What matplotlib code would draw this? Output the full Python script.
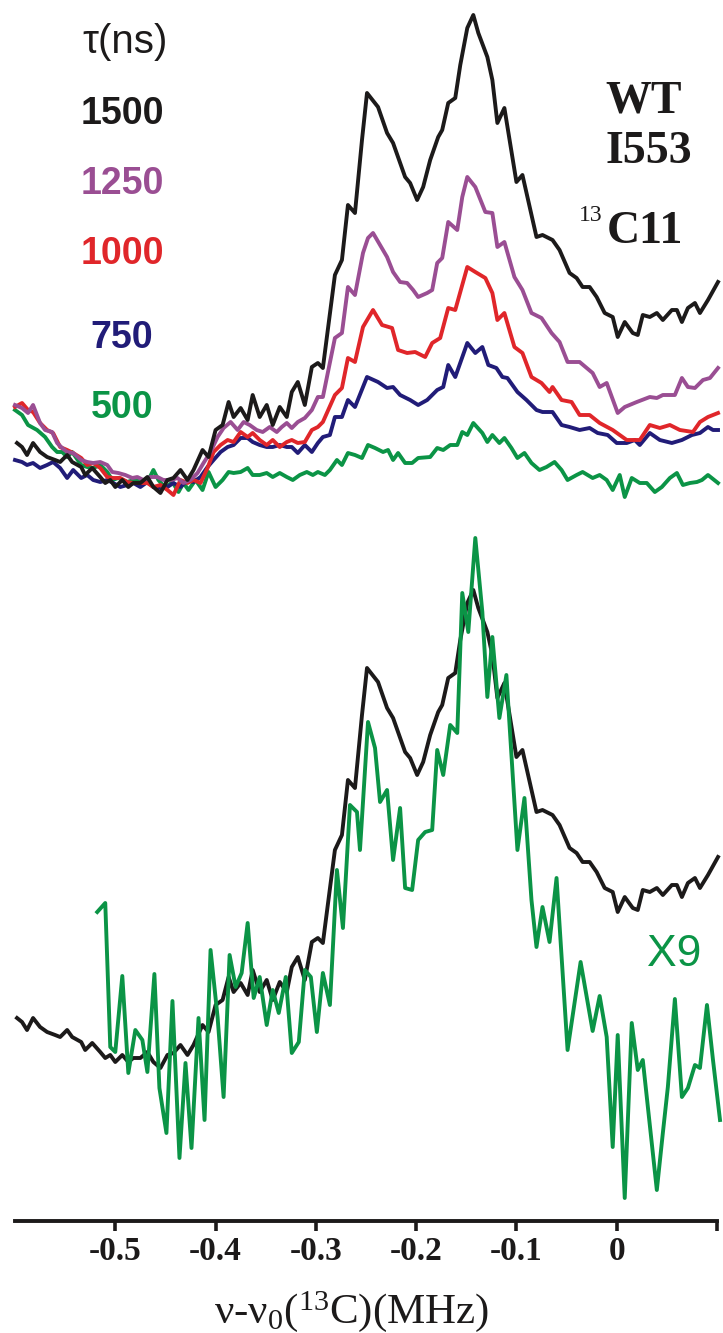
"""
Stacked ENDOR spectra for several mixing times
plus the scaled short-time trace against the long one
"""

###Third party
import matplotlib
matplotlib.use('Agg')
import matplotlib.pyplot as plt

plt.rcParams['mathtext.fontset'] = 'custom'
plt.rcParams['mathtext.rm'] = 'Liberation Serif'
plt.rcParams['mathtext.it'] = 'Liberation Serif:italic'

##spectra: frequency offset (MHz) and intensity (a.u.) for each tau
freq_1500 = [-0.598, -0.593, -0.588, -0.582, -0.575, -0.568, -0.560, -0.555, -0.548, -0.543,
             -0.534, -0.530, -0.523, -0.515, -0.510, -0.505, -0.500, -0.493, -0.487, -0.482,
             -0.475, -0.468, -0.462, -0.455, -0.448, -0.442, -0.435, -0.428, -0.422, -0.413,
             -0.407, -0.400, -0.393, -0.387, -0.382, -0.375, -0.368, -0.363, -0.356, -0.349,
             -0.343, -0.336, -0.329, -0.324, -0.318, -0.311, -0.304, -0.298, -0.293, -0.281,
             -0.274, -0.268, -0.261, -0.254, -0.249, -0.238, -0.229, -0.223, -0.211, -0.206,
             -0.199, -0.193, -0.186, -0.178, -0.174, -0.168, -0.161, -0.156, -0.149, -0.143,
             -0.138, -0.129, -0.124, -0.119, -0.112, -0.100, -0.094, -0.080, -0.074, -0.064,
             -0.057, -0.047, -0.040, -0.034, -0.027, -0.020, -0.012, -0.004, 0.001, 0.008,
             0.016, 0.021, 0.026, 0.033, 0.040, 0.046, 0.055, 0.060, 0.065, 0.071,
             0.078, 0.083, 0.091, 0.101]
int_1500 = [0.47, 0.43, 0.35, 0.47, 0.38, 0.33, 0.30, 0.28, 0.35, 0.28,
            0.23, 0.15, 0.22, 0.13, 0.07, 0.10, 0.03, 0.10, 0.03, 0.07,
            0.07, 0.13, 0.03, -0.03, 0.10, 0.12, 0.20, 0.10, 0.20, 0.40,
            0.33, 0.60, 0.65, 0.88, 0.73, 0.82, 0.70, 0.95, 0.73, 0.85,
            0.65, 0.83, 0.73, 0.98, 1.08, 0.85, 1.23, 1.27, 1.22, 2.15,
            2.30, 2.85, 2.77, 3.50, 3.97, 3.83, 3.57, 3.47, 3.13, 3.07,
            2.90, 3.03, 3.30, 3.53, 3.60, 3.87, 3.92, 4.25, 4.62, 4.75,
            4.57, 4.33, 4.10, 3.67, 3.82, 3.08, 3.15, 2.53, 2.55, 2.50,
            2.40, 2.17, 2.12, 2.03, 2.03, 1.93, 1.77, 1.73, 1.53, 1.68,
            1.57, 1.55, 1.75, 1.73, 1.77, 1.70, 1.80, 1.80, 1.68, 1.82,
            1.87, 1.77, 1.90, 2.08]

freq_1250 = [-0.600, -0.593, -0.587, -0.582, -0.575, -0.570, -0.563, -0.558, -0.553, -0.548,
             -0.542, -0.534, -0.528, -0.522, -0.515, -0.508, -0.503, -0.497, -0.490, -0.483,
             -0.478, -0.472, -0.465, -0.458, -0.452, -0.444, -0.438, -0.432, -0.425, -0.418,
             -0.412, -0.405, -0.398, -0.392, -0.385, -0.378, -0.372, -0.366, -0.359, -0.353,
             -0.346, -0.339, -0.334, -0.329, -0.324, -0.318, -0.311, -0.304, -0.298, -0.293,
             -0.281, -0.274, -0.268, -0.261, -0.253, -0.248, -0.243, -0.236, -0.229, -0.223,
             -0.216, -0.209, -0.203, -0.198, -0.189, -0.184, -0.179, -0.174, -0.168, -0.159,
             -0.154, -0.149, -0.141, -0.131, -0.124, -0.119, -0.112, -0.102, -0.094, -0.085,
             -0.075, -0.065, -0.057, -0.049, -0.037, -0.024, -0.017, -0.010, 0.001, 0.008,
             0.020, 0.033, 0.040, 0.046, 0.058, 0.065, 0.071, 0.078, 0.086, 0.093,
             0.101]
int_1250 = [0.85, 0.82, 0.77, 0.85, 0.67, 0.60, 0.58, 0.47, 0.42, 0.38,
            0.37, 0.30, 0.28, 0.27, 0.28, 0.25, 0.18, 0.17, 0.15, 0.12,
            0.13, 0.10, 0.13, 0.13, 0.10, 0.10, 0.12, 0.07, 0.10, 0.17,
            0.27, 0.38, 0.53, 0.62, 0.68, 0.60, 0.68, 0.65, 0.60, 0.58,
            0.63, 0.58, 0.63, 0.67, 0.62, 0.68, 0.72, 0.80, 0.93, 0.93,
            1.52, 1.57, 2.03, 1.95, 2.37, 2.52, 2.57, 2.45, 2.33, 2.18,
            2.08, 2.07, 2.00, 1.93, 1.97, 2.00, 2.27, 2.32, 2.68, 2.60,
            2.93, 3.13, 3.03, 2.78, 2.77, 2.43, 2.48, 2.13, 2.00, 1.77,
            1.72, 1.57, 1.48, 1.28, 1.28, 1.17, 1.03, 1.07, 0.77, 0.83,
            0.88, 0.93, 0.92, 0.95, 0.95, 1.12, 1.03, 1.02, 1.10, 1.12,
            1.22]

freq_1000 = [-0.600, -0.593, -0.587, -0.582, -0.575, -0.568, -0.562, -0.555, -0.548, -0.542,
             -0.534, -0.528, -0.522, -0.515, -0.508, -0.502, -0.495, -0.488, -0.482, -0.475,
             -0.468, -0.462, -0.455, -0.448, -0.442, -0.435, -0.428, -0.422, -0.415, -0.408,
             -0.402, -0.395, -0.388, -0.382, -0.375, -0.368, -0.363, -0.356, -0.349, -0.343,
             -0.336, -0.329, -0.324, -0.318, -0.311, -0.304, -0.298, -0.293, -0.281, -0.274,
             -0.268, -0.261, -0.253, -0.243, -0.234, -0.224, -0.218, -0.209, -0.201, -0.191,
             -0.184, -0.176, -0.168, -0.161, -0.149, -0.141, -0.131, -0.124, -0.119, -0.112,
             -0.102, -0.094, -0.085, -0.075, -0.067, -0.064, -0.055, -0.045, -0.037, -0.027,
             -0.017, -0.004, 0.010, 0.023, 0.033, 0.043, 0.053, 0.063, 0.076, 0.083,
             0.091, 0.101]
int_1000 = [0.83, 0.87, 0.80, 0.78, 0.67, 0.60, 0.57, 0.43, 0.40, 0.37,
            0.32, 0.25, 0.27, 0.22, 0.13, 0.12, 0.12, 0.08, 0.07, 0.07,
            0.07, 0.03, 0.05, 0.00, -0.05, 0.10, 0.07, 0.10, 0.07, 0.22,
            0.38, 0.45, 0.50, 0.48, 0.58, 0.53, 0.57, 0.50, 0.45, 0.50,
            0.43, 0.48, 0.50, 0.47, 0.48, 0.60, 0.63, 0.68, 0.95, 1.02,
            1.32, 1.28, 1.63, 1.80, 1.65, 1.62, 1.40, 1.37, 1.38, 1.33,
            1.47, 1.52, 1.82, 1.80, 2.23, 2.18, 2.12, 1.97, 1.70, 1.77,
            1.43, 1.37, 1.13, 1.07, 0.98, 1.03, 0.90, 0.88, 0.75, 0.75,
            0.67, 0.60, 0.50, 0.50, 0.65, 0.62, 0.65, 0.60, 0.58, 0.68,
            0.73, 0.77]

freq_750 = [-0.600, -0.593, -0.588, -0.582, -0.575, -0.568, -0.562, -0.555, -0.548, -0.542,
            -0.534, -0.528, -0.522, -0.515, -0.508, -0.502, -0.495, -0.488, -0.482, -0.475,
            -0.468, -0.462, -0.455, -0.448, -0.442, -0.435, -0.428, -0.422, -0.415, -0.408,
            -0.402, -0.395, -0.388, -0.382, -0.375, -0.368, -0.363, -0.356, -0.349, -0.343,
            -0.336, -0.329, -0.324, -0.318, -0.311, -0.304, -0.298, -0.293, -0.286, -0.281,
            -0.274, -0.268, -0.261, -0.249, -0.238, -0.229, -0.223, -0.216, -0.206, -0.198,
            -0.189, -0.179, -0.173, -0.168, -0.161, -0.149, -0.141, -0.134, -0.128, -0.120,
            -0.114, -0.109, -0.099, -0.090, -0.080, -0.074, -0.064, -0.055, -0.047, -0.037,
            -0.027, -0.019, -0.009, 0.000, 0.010, 0.018, 0.023, 0.033, 0.043, 0.055,
            0.065, 0.075, 0.083, 0.091, 0.096, 0.101]
int_750 = [0.30, 0.28, 0.25, 0.27, 0.22, 0.25, 0.28, 0.22, 0.12, 0.20,
           0.12, 0.15, 0.10, 0.08, 0.10, 0.07, 0.03, 0.05, 0.07, 0.03,
           0.08, 0.03, 0.02, 0.03, 0.07, 0.03, 0.10, 0.08, 0.13, 0.23,
           0.30, 0.38, 0.43, 0.45, 0.52, 0.52, 0.48, 0.45, 0.43, 0.43,
           0.45, 0.43, 0.43, 0.37, 0.45, 0.38, 0.47, 0.53, 0.55, 0.73,
           0.73, 0.90, 0.83, 1.13, 1.08, 1.02, 1.03, 0.95, 0.90, 0.85,
           0.90, 1.00, 1.03, 1.25, 1.13, 1.47, 1.37, 1.43, 1.25, 1.22,
           1.13, 1.12, 0.98, 0.90, 0.80, 0.78, 0.78, 0.65, 0.63, 0.60,
           0.62, 0.57, 0.55, 0.47, 0.47, 0.50, 0.45, 0.57, 0.50, 0.47,
           0.50, 0.55, 0.57, 0.63, 0.60, 0.60]

freq_500 = [-0.600, -0.593, -0.587, -0.578, -0.570, -0.563, -0.558, -0.553, -0.548, -0.543,
            -0.534, -0.528, -0.522, -0.515, -0.508, -0.503, -0.497, -0.488, -0.482, -0.475,
            -0.468, -0.462, -0.457, -0.450, -0.443, -0.437, -0.432, -0.427, -0.420, -0.413,
            -0.407, -0.400, -0.393, -0.387, -0.382, -0.375, -0.368, -0.363, -0.356, -0.349,
            -0.343, -0.336, -0.329, -0.323, -0.316, -0.309, -0.303, -0.298, -0.291, -0.286,
            -0.279, -0.274, -0.268, -0.261, -0.254, -0.248, -0.241, -0.233, -0.228, -0.223,
            -0.218, -0.211, -0.204, -0.198, -0.186, -0.179, -0.173, -0.166, -0.159, -0.154,
            -0.149, -0.143, -0.134, -0.129, -0.124, -0.117, -0.112, -0.105, -0.099, -0.092,
            -0.085, -0.077, -0.070, -0.062, -0.055, -0.049, -0.040, -0.034, -0.024, -0.017,
            -0.010, -0.004, 0.003, 0.008, 0.015, 0.023, 0.030, 0.038, 0.045, 0.053,
            0.060, 0.066, 0.073, 0.080, 0.085, 0.091, 0.101]
int_500 = [0.80, 0.75, 0.65, 0.60, 0.53, 0.43, 0.38, 0.38, 0.33, 0.38,
           0.25, 0.23, 0.22, 0.25, 0.18, 0.10, 0.12, 0.08, 0.10, 0.10,
           0.08, 0.20, 0.10, 0.02, 0.08, -0.02, 0.07, 0.00, 0.10, 0.00,
           0.18, 0.03, 0.10, 0.18, 0.17, 0.18, 0.22, 0.15, 0.15, 0.17,
           0.13, 0.17, 0.13, 0.10, 0.15, 0.18, 0.15, 0.18, 0.15, 0.20,
           0.30, 0.25, 0.37, 0.35, 0.32, 0.45, 0.42, 0.38, 0.40, 0.30,
           0.37, 0.27, 0.27, 0.32, 0.33, 0.42, 0.40, 0.45, 0.45, 0.58,
           0.55, 0.67, 0.57, 0.48, 0.55, 0.47, 0.52, 0.42, 0.32, 0.37,
           0.27, 0.20, 0.23, 0.28, 0.20, 0.10, 0.15, 0.18, 0.12, 0.15,
           0.10, 0.00, 0.15, -0.07, 0.12, 0.07, 0.07, -0.02, 0.03, 0.12,
           0.17, 0.05, 0.07, 0.08, 0.10, 0.15, 0.07]

##500 ns trace multiplied by nine
freq_500x9 = [-0.518, -0.510, -0.505, -0.500, -0.493, -0.487, -0.480, -0.473, -0.468, -0.461,
              -0.456, -0.449, -0.443, -0.436, -0.430, -0.424, -0.417, -0.411, -0.405, -0.398,
              -0.392, -0.386, -0.380, -0.374, -0.368, -0.362, -0.356, -0.349, -0.343, -0.337,
              -0.330, -0.324, -0.317, -0.311, -0.305, -0.299, -0.293, -0.286, -0.279, -0.273,
              -0.266, -0.259, -0.256, -0.248, -0.241, -0.236, -0.229, -0.223, -0.216, -0.211,
              -0.204, -0.198, -0.191, -0.184, -0.179, -0.173, -0.166, -0.159, -0.154, -0.148,
              -0.141, -0.134, -0.129, -0.124, -0.117, -0.110, -0.099, -0.092, -0.085, -0.080,
              -0.074, -0.067, -0.060, -0.049, -0.036, -0.024, -0.017, -0.010, -0.004, 0.001,
              0.008, 0.015, 0.021, 0.026, 0.040, 0.046, 0.051, 0.058, 0.065, 0.071,
              0.078, 0.083, 0.090, 0.096, 0.103]
int_500x9 = [1.53, 1.62, 0.18, 0.13, 0.89, -0.08, 0.35, 0.25, -0.07, 0.91,
             -0.23, -0.68, 0.64, -0.93, 0.02, -0.83, 0.47, -0.55, 1.15, 0.48,
             -0.32, 1.10, 0.78, 0.92, 1.42, 0.67, 0.88, 0.40, 0.75, 0.52,
             0.88, 0.12, 0.23, 0.95, 0.88, 0.33, 0.92, 0.60, 1.95, 1.37,
             2.60, 2.53, 2.15, 3.43, 3.17, 2.63, 2.75, 2.05, 2.57, 1.77,
             1.75, 2.25, 2.33, 2.35, 3.15, 2.90, 3.40, 3.32, 4.72, 4.33,
             5.27, 4.53, 3.68, 4.28, 3.47, 3.90, 2.15, 2.67, 1.65, 1.18,
             1.58, 1.23, 1.87, 0.15, 1.03, 0.34, 0.69, 0.28, -0.82, 0.30,
             -1.33, 0.42, -0.05, 0.05, -1.25, -0.68, -0.22, 0.66, -0.32, -0.23,
             0.00, -0.03, 0.60, 0.05, -0.55]

tau_labels = ['1500', '1250', '1000', '750', '500']
tick_values = [-0.5, -0.4, -0.3, -0.2, -0.1, 0.0, 0.1]
tick_labels = ['-0.5', '-0.4', '-0.3', '-0.2', '-0.1', '0', '']

##vertical offsets of the two stacks
offset_top = 7.31
offset_bottom = 1.56


def make_plot(filename):
    '''
    Draws the stacked spectra and the x9 comparison

    Parameters
    ----------
    filename:   str
                name of the output file
    '''
    fig = plt.figure(figsize=(7.23, 13.33), dpi=100)
    plot = fig.add_axes([15/723, 112/1333, 702/723, 1221/1333])

    colors = ['#1c1a1a', '#9a4e93', '#e0262a', '#211c78', '#0b9446']
    freqs = [freq_1500, freq_1250, freq_1000, freq_750, freq_500]
    ints = [int_1500, int_1250, int_1000, int_750, int_500]

    ###upper stack, drawn back to front so black ends on top
    for f, i, c in list(zip(freqs, ints, colors))[::-1]:
        plot.plot(f, [offset_top + v for v in i], color=c, lw=2.8,
                  clip_on=False)

    ###lower comparison
    plot.plot(freq_1500, [offset_bottom + v for v in int_1500], color=colors[0],
              lw=2.8, clip_on=False, zorder=3)
    plot.plot(freq_500x9, [offset_bottom + v for v in int_500x9], color=colors[4],
              lw=2.8, clip_on=False, zorder=4)

    plot.set_xlim(-0.6, 0.1)
    plot.set_ylim(0, 12.21)

    ###only the bottom axis is kept
    for side in ['top', 'left', 'right']:
        plot.spines[side].set_visible(False)
    plot.spines['bottom'].set_linewidth(2.8)
    plot.spines['bottom'].set_color('#1c1a1a')
    plot.set_yticks([])
    plot.set_xticks(tick_values)
    plot.set_xticklabels(tick_labels, family='Liberation Serif', weight='bold', fontsize=24)
    plot.tick_params(axis='x', direction='out', length=7.5, width=2.6, pad=3,
                     color='#1c1a1a', labelcolor='#1c1a1a')

    fig.text(0.487, 0.0075, 'ν-ν$_0$($^{13}$C)(MHz)', family='Liberation Serif',
             fontsize=31, ha='center', va='baseline', color='#1c1a1a')

    ###tau legend
    fig.text(0.173, 0.9685, 'τ(ns)', family='Liberation Sans', fontsize=29,
             ha='center', va='center', color='#1c1a1a')
    label_y = [0.9145, 0.862, 0.8095, 0.7464, 0.694]
    for lab, y, c in zip(tau_labels, label_y, colors):
        fig.text(0.169, y, lab, family='Liberation Sans', weight='bold', fontsize=27,
                 ha='center', va='center', color=c)

    ###sample
    fig.text(0.8368, 0.9242, 'WT', family='Liberation Serif', weight='bold',
             fontsize=33, ha='left', va='center', color='#1c1a1a')
    fig.text(0.8368, 0.886, 'I553', family='Liberation Serif', weight='bold',
             fontsize=33, ha='left', va='center', color='#1c1a1a')
    fig.text(0.8396, 0.826, 'C11', family='Liberation Serif', weight='bold',
             fontsize=33, ha='left', va='center', color='#1c1a1a')
    fig.text(0.834, 0.8387, '13', family='Liberation Serif', fontsize=17,
             ha='right', va='center', color='#1c1a1a')

    fig.text(0.895, 0.2836, 'X9', family='Liberation Sans', fontsize=32,
             ha='left', va='center', color=colors[4])

    plt.savefig(filename, dpi=100, facecolor='white')


make_plot('out.png')
